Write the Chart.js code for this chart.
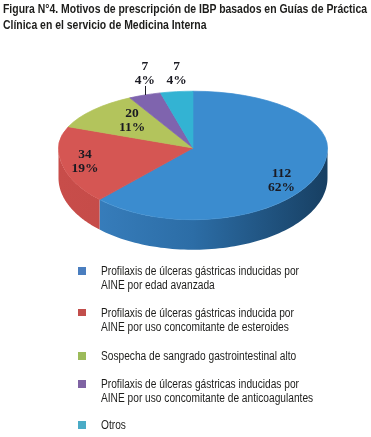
<!DOCTYPE html>
<html><head><meta charset="utf-8">
<script src="https://cdn.jsdelivr.net/npm/chart.js@4.4.0/dist/chart.umd.min.js"></script>
<style>
html,body{margin:0;padding:0;background:#fff;}
#wrap{position:relative;width:371px;height:437px;overflow:hidden;background:#fff;}
#c{position:absolute;left:0;top:0;}
#title{position:absolute;left:3px;top:1px;font:bold 13px "Liberation Sans",Arial,sans-serif;line-height:16px;color:#1d1d1b;white-space:nowrap;transform-origin:0 0;}
.li{position:absolute;left:78px;font:12.5px "Liberation Sans",Arial,sans-serif;line-height:14px;color:#1d1d1b;}
.sw{position:absolute;left:0;top:3px;width:7.5px;height:7.5px;}
.tx{position:absolute;left:22.5px;top:0;white-space:nowrap;transform-origin:0 0;}
.ln{display:inline-block;}
</style></head>
<body><div id="wrap"><canvas id="c" width="371" height="437"></canvas><div id="title"></div><div id="legend"></div></div>
<script>
const titleLines = ["Figura N°4. Motivos de prescripción de IBP basados en Guías de Práctica", "Clínica en el servicio de Medicina Interna"];
const categories = [
  ["Profilaxis de úlceras gástricas inducidas por", "AINE por edad avanzada"],
  ["Profilaxis de úlceras gástricas inducida por", "AINE por uso concomitante de esteroides"],
  ["Sospecha de sangrado gastrointestinal alto"],
  ["Profilaxis de úlceras gástricas inducidas por", "AINE por uso concomitante de anticoagulantes"],
  ["Otros"]
];
const values = [112, 34, 20, 7, 7];

// styles
const pieColors = ['#3b8ccf', '#d55653', '#b3c45c', '#7f64ae', '#33b3d3'];
const sideStops = [
  [[0, '#3b83c3'], [0.5, '#2c6da6'], [1, '#173f62']],
  [[0, '#c84d4a'], [1, '#b84644']],
  [[0, '#8fa047'], [1, '#8fa047']],
  [[0, '#5f4a86'], [1, '#5f4a86']],
  [[0, '#2790aa'], [1, '#2790aa']]
];
const legendColors = ['#4a7ebf', '#c24e4b', '#9cbb5a', '#7f63a3', '#4aabc6'];
const legendTops = [264, 305.5, 349, 377, 418];
const titleWidth = 364;   // px width of the first title line
const legendWidth = 198;  // px width of the first legend line
const labelPlace = [
  {r: 0.71, dy: 13, leader: 0},
  {r: 0.82, dy: 1, leader: 0},
  {r: 0.61, dy: -4.5, leader: 0},
  {r: 1.0, dy: -21.3, leader: 9},
  {r: 1.0, dy: -17.9, leader: 0}
];
const G = {kBack: 57 / 135, kFront: 72 / 135, depth: 30};

const tEl = document.getElementById('title');
tEl.innerHTML = titleLines.map(l => '<span class="ln">' + l + '</span>').join('<br>');
const tw = tEl.querySelector('.ln').getBoundingClientRect().width;
tEl.style.transform = 'scaleX(' + (titleWidth / tw) + ')';

const lg = document.getElementById('legend');
const txEls = [];
categories.forEach((lines, i) => {
  const d = document.createElement('div');
  d.className = 'li';
  d.style.top = legendTops[i] + 'px';
  d.innerHTML = '<div class="sw" style="background:' + legendColors[i] + '"></div><div class="tx">' +
    lines.map(l => '<span class="ln">' + l + '</span>').join('<br>') + '</div>';
  lg.appendChild(d);
  txEls.push(d.querySelector('.tx'));
});
const lw = txEls[0].querySelector('.ln').getBoundingClientRect().width;
txEls.forEach(el => el.style.transform = 'scaleX(' + (legendWidth / lw) + ')');

const total = values.reduce((a, b) => a + b, 0);
const pctLabels = values.map(v => Math.round(v / total * 100) + '%');

const pie3d = {
  id: 'pie3d',
  beforeDatasetsDraw(chart) {
    const ctx = chart.ctx;
    const arcs = chart.getDatasetMeta(0).data;
    if (!arcs.length) return false;
    const R = arcs[0].outerRadius, ox = arcs[0].x, oy = arcs[0].y;
    arcs.forEach((arc, i) => {
      const s = arc.startAngle, e = arc.endAngle;
      [0, 2 * Math.PI, -2 * Math.PI].forEach(base => {
        const a = Math.max(s, base), b = Math.min(e, base + Math.PI);
        if (b <= a) return;
        const N = 80;
        ctx.beginPath();
        for (let j = 0; j <= N; j++) {
          const t = a + (b - a) * j / N;
          const x = ox + R * Math.cos(t), y = oy + G.kFront * R * Math.sin(t);
          if (j) ctx.lineTo(x, y); else ctx.moveTo(x, y);
        }
        for (let j = N; j >= 0; j--) {
          const t = a + (b - a) * j / N;
          ctx.lineTo(ox + R * Math.cos(t), oy + G.kFront * R * Math.sin(t) + G.depth);
        }
        ctx.closePath();
        const g = ctx.createLinearGradient(ox - R, 0, ox + R, 0);
        sideStops[i].forEach(st => g.addColorStop(st[0], st[1]));
        ctx.fillStyle = g;
        ctx.fill();
      });
    });
    [[0, oy, G.kBack], [oy, chart.height, G.kFront]].forEach(([y0, y1, k]) => {
      ctx.save();
      ctx.beginPath();
      ctx.rect(0, y0, chart.width, y1 - y0);
      ctx.clip();
      ctx.translate(0, oy);
      ctx.scale(1, k);
      ctx.translate(0, -oy);
      arcs.forEach(a => a.draw(ctx));
      ctx.restore();
    });
    return false;
  },
  afterDraw(chart) {
    const ctx = chart.ctx;
    const arcs = chart.getDatasetMeta(0).data;
    ctx.save();
    ctx.font = 'bold 13.5px "Liberation Serif", serif';
    ctx.fillStyle = '#1a1a22';
    ctx.strokeStyle = '#1a1a22';
    ctx.lineWidth = 1;
    ctx.textAlign = 'center';
    ctx.textBaseline = 'middle';
    arcs.forEach((arc, i) => {
      const m = (arc.startAngle + arc.endAngle) / 2;
      const L = labelPlace[i];
      const sn = Math.sin(m);
      const k = sn < 0 ? G.kBack : G.kFront;
      const r = arc.outerRadius * L.r;
      const x = arc.x + r * Math.cos(m);
      const y = arc.y + k * r * sn;
      if (L.leader) {
        ctx.beginPath();
        ctx.moveTo(Math.round(x) + 0.5, y);
        ctx.lineTo(Math.round(x) + 0.5, y - L.leader);
        ctx.stroke();
      }
      const cy = y + L.dy;
      ctx.fillText(String(values[i]), x, cy - 7);
      ctx.fillText(pctLabels[i], x, cy + 7);
    });
    ctx.restore();
  }
};

new Chart(document.getElementById('c'), {
  type: 'pie',
  data: {
    labels: categories.map(l => l.join(' ')),
    datasets: [{
      data: values,
      backgroundColor: pieColors,
      borderColor: pieColors,
      borderWidth: 1,
      hoverOffset: 0,
      clip: false
    }]
  },
  options: {
    responsive: false,
    animation: false,
    events: [],
    layout: {padding: {left: 58, right: 43, top: 13, bottom: 154}},
    plugins: {legend: {display: false}, title: {display: false}, tooltip: {enabled: false}}
  },
  plugins: [pie3d]
});
</script>
</body></html>
